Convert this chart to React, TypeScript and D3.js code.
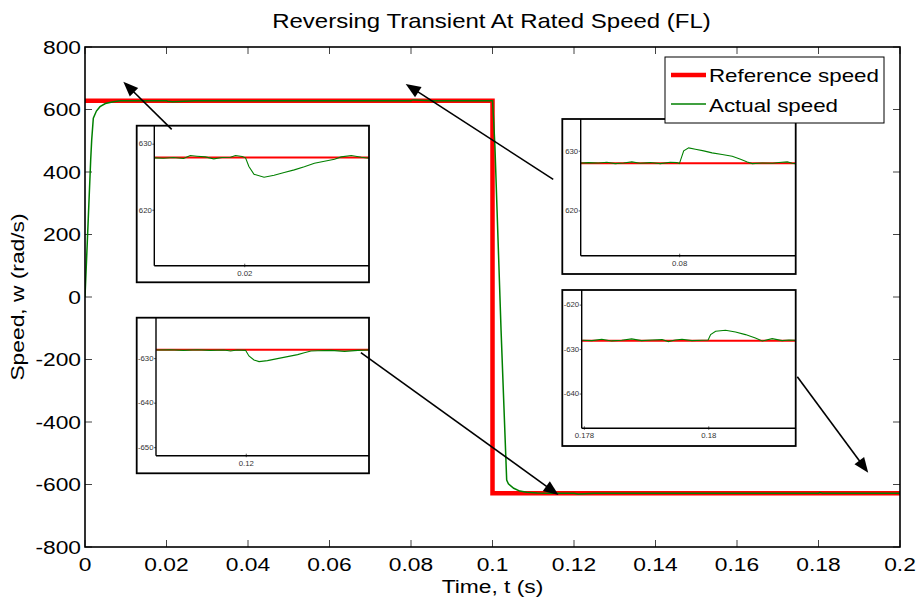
import React from 'react';
import * as d3 from 'd3';

const W = 921;
const H = 603;
const SX = 1.2;
const FONT = '"Liberation Sans", Arial, Helvetica, sans-serif';

// ---------- main chart data ----------
const titleText = 'Reversing Transient At Rated Speed (FL)';
const xLabelText = 'Time, t (s)';
const yLabelText = 'Speed, w (rad/s)';
const legendLabels = ['Reference speed', 'Actual speed'];

const xTicks = [0, 0.02, 0.04, 0.06, 0.08, 0.1, 0.12, 0.14, 0.16, 0.18, 0.2];
const xTickLabels = ['0', '0.02', '0.04', '0.06', '0.08', '0.1', '0.12', '0.14', '0.16', '0.18', '0.2'];
const yTicks = [-800, -600, -400, -200, 0, 200, 400, 600, 800];
const yTickLabels = ['-800', '-600', '-400', '-200', '0', '200', '400', '600', '800'];

const refTime = [0, 0.1, 0.1, 0.2];
const refSpeed = [628, 628, -628, -628];

const actTime = [
  0, 0.0008, 0.0014, 0.00164, 0.00204, 0.0028, 0.00368, 0.005, 0.00695, 0.0086,
  0.02, 0.0203, 0.0215, 0.027, 0.08, 0.0803, 0.0807, 0.085,
  0.1, 0.1003, 0.1006, 0.1021, 0.10348, 0.1039, 0.1052, 0.1067, 0.1084, 0.111, 0.114,
  0.12, 0.121, 0.125, 0.18, 0.1803, 0.181, 0.2,
];
const actSpeed = [
  0, 250, 440, 502, 572, 595, 609, 619, 625, 628,
  628, 626.6, 625, 628, 628, 630, 630.5, 628,
  628, 560, 480, -106, -586, -598, -612, -621, -625, -627.5, -628,
  -628, -630.6, -628, -628, -625.9, -628, -628,
];

// arrows (in main-axis data units)
const arrowTailT = [0.02128, 0.1149, 0.0677, 0.1748];
const arrowTailV = [536.6, 376.6, -178, -255];
const arrowHeadT = [0.0094, 0.0787, 0.1162, 0.1922];
const arrowHeadV = [689, 681.6, -633.6, -562];

// ---------- inset data ----------
const inset1Time = [0.01331, 0.01394, 0.01468, 0.01544, 0.01594, 0.01644, 0.01706, 0.01769, 0.01831, 0.01894, 0.01931, 0.01981, 0.02006, 0.02031, 0.02069, 0.02144, 0.02219, 0.02294, 0.02369, 0.02444, 0.02519, 0.02594, 0.02669, 0.02719, 0.02794, 0.02869, 0.02926];
const inset1Speed = [627.93, 627.88, 627.98, 627.83, 628.28, 628.18, 628.08, 627.78, 627.98, 628.03, 628.28, 628.13, 627.93, 626.62, 625.45, 625.0, 625.3, 625.71, 626.11, 626.57, 627.12, 627.42, 627.73, 628.08, 628.28, 628.03, 627.88];
const inset1Ref = 628;
const inset1XDomain = [0.01326, 0.02926];
const inset1YDomain = [611.6, 632.8];
const inset1XTicks = [0.02];
const inset1YTicks = [620, 630];

const inset2Time = [0.07266, 0.07321, 0.07395, 0.07458, 0.0752, 0.07582, 0.07644, 0.07706, 0.07781, 0.07856, 0.0793, 0.0798, 0.07998, 0.0803, 0.08067, 0.08117, 0.08179, 0.08241, 0.08316, 0.08391, 0.08453, 0.08503, 0.0854, 0.08615, 0.0869, 0.08739, 0.08801, 0.08838, 0.08863];
const inset2Speed = [628.04, 628.1, 628.04, 628.16, 627.93, 628.04, 628.21, 627.99, 628.1, 627.93, 628.16, 628.1, 627.93, 630.06, 630.56, 630.34, 630.06, 629.72, 629.44, 629.16, 628.66, 628.21, 627.93, 628.04, 627.99, 628.1, 628.21, 627.99, 627.93];
const inset2Ref = 628;
const inset2XDomain = [0.072635, 0.088634];
const inset2YDomain = [612.5, 635.4];
const inset2XTicks = [0.08];
const inset2YTicks = [620, 630];

const inset3Time = [0.11327, 0.11428, 0.11529, 0.1163, 0.1173, 0.11831, 0.11882, 0.11932, 0.11995, 0.1202, 0.12058, 0.12096, 0.12159, 0.12234, 0.1231, 0.12386, 0.12436, 0.12486, 0.12537, 0.12638, 0.12738, 0.12839, 0.12922];
const inset3Speed = [-628.06, -627.99, -628.13, -627.99, -628.13, -628.06, -628.28, -628.06, -628.13, -629.4, -630.3, -630.67, -630.45, -630.0, -629.55, -629.1, -628.66, -628.28, -628.21, -628.13, -628.36, -628.13, -628.06];
const inset3Ref = -628;
const inset3XDomain = [0.11322, 0.12922];
const inset3YDomain = [-651.8, -620.8];
const inset3XTicks = [0.12];
const inset3YTicks = [-650, -640, -630];

const inset4Time = [0.17797, 0.17812, 0.17828, 0.17844, 0.1786, 0.17876, 0.17892, 0.17909, 0.17925, 0.17935, 0.17946, 0.17957, 0.17973, 0.17989, 0.17999, 0.18003, 0.18011, 0.18027, 0.18043, 0.18059, 0.18075, 0.18086, 0.18102, 0.18118, 0.18129, 0.1814];
const inset4Speed = [-627.9, -627.98, -627.68, -628.05, -627.9, -627.6, -627.98, -627.83, -627.75, -628.2, -627.83, -627.68, -627.98, -627.9, -627.83, -626.63, -625.88, -625.66, -626.03, -626.63, -627.38, -628.05, -627.53, -627.98, -627.83, -627.9];
const inset4Ref = -628;
const inset4XDomain = [0.177957, 0.181398];
const inset4YDomain = [-647.7, -616.6];
const inset4XTicks = [0.178, 0.18];
const inset4YTicks = [-640, -630, -620];

// ---------- layout ----------
const M = { left: 85, right: 900, top: 47, bottom: 547 };
const insetLayouts = [
  { x1: 136.7, y1: 125.7, x2: 369, y2: 282.3, axL: 154.3, axB: 265.7 },
  { x1: 562.3, y1: 119, x2: 795.7, y2: 274, axL: 580.7, axB: 255.7 },
  { x1: 136.7, y1: 317.7, x2: 369, y2: 473.3, axL: 156, axB: 455.7 },
  { x1: 562.3, y1: 290, x2: 795.7, y2: 446, axL: 581.7, axB: 428.3 },
];

function T(props: any) {
  const { x, y, anchor = 'start', size = 19, rotate, fill = '#000', children } = props;
  const tr = `translate(${x},${y})${rotate ? ` rotate(${rotate})` : ''} scale(${SX},1)`;
  return (
    <text transform={tr} textAnchor={anchor} fontSize={size} fill={fill} fontFamily={FONT}>
      {children}
    </text>
  );
}

function Inset(props: any) {
  const { id, lay, time, speed, refV, xDomain, yDomain, xT, yT } = props;
  const xs = d3.scaleLinear().domain(xDomain).range([lay.axL, lay.x2]);
  const ys = d3.scaleLinear().domain(yDomain).range([lay.axB, lay.y1]);
  const line = d3.line<number>().x((_, i) => xs(time[i])).y((d) => ys(d));
  return (
    <g>
      <defs>
        <clipPath id={id}>
          <rect x={lay.axL} y={lay.y1} width={lay.x2 - lay.axL} height={lay.axB - lay.y1} />
        </clipPath>
      </defs>
      <rect x={lay.x1} y={lay.y1} width={lay.x2 - lay.x1} height={lay.y2 - lay.y1} fill="#fff" stroke="none" />
      <g clipPath={`url(#${id})`}>
        <line x1={xs(xDomain[0])} x2={xs(xDomain[1])} y1={ys(refV)} y2={ys(refV)} stroke="#ff0000" strokeWidth={2} />
        <path d={line(speed) || ''} fill="none" stroke="#008000" strokeWidth={1.1} />
      </g>
      {yT.map((v: number) => (
        <g key={'y' + v}>
          <line x1={lay.axL - 2} x2={lay.axL} y1={ys(v)} y2={ys(v)} stroke="#333" strokeWidth={0.8} />
          <T x={lay.axL - 2.5} y={ys(v) + 2.3} anchor="end" size={6.5} fill="#333">{String(v)}</T>
        </g>
      ))}
      {xT.map((v: number) => (
        <g key={'x' + v}>
          <line x1={xs(v)} x2={xs(v)} y1={lay.axB - 2} y2={lay.axB + 1.5} stroke="#333" strokeWidth={0.8} />
          <T x={xs(v)} y={lay.axB + 10} anchor="middle" size={6.5} fill="#333">{String(v)}</T>
        </g>
      ))}
      <line x1={lay.axL} x2={lay.axL} y1={lay.y1} y2={lay.axB} stroke="#000" strokeWidth={1.4} />
      <line x1={lay.axL} x2={lay.x2} y1={lay.axB} y2={lay.axB} stroke="#000" strokeWidth={1.4} />
      <rect x={lay.x1} y={lay.y1} width={lay.x2 - lay.x1} height={lay.y2 - lay.y1} fill="none" stroke="#000" strokeWidth={1.8} />
    </g>
  );
}

export default function App() {
  const x = d3.scaleLinear().domain([0, 0.2]).range([M.left, M.right]);
  const y = d3.scaleLinear().domain([-800, 800]).range([M.bottom, M.top]);
  const refLine = d3.line<number>().x((_, i) => x(refTime[i])).y((d) => y(d));
  const actLine = d3.line<number>().x((_, i) => x(actTime[i])).y((d) => y(d));

  const arrows = arrowTailT.map((_, i) => {
    const x0 = x(arrowTailT[i]);
    const y0 = y(arrowTailV[i]);
    const x1 = x(arrowHeadT[i]);
    const y1 = y(arrowHeadV[i]);
    const dx = x1 - x0;
    const dy = y1 - y0;
    const len = Math.hypot(dx, dy);
    const ux = dx / len;
    const uy = dy / len;
    const L = 15;
    const hw = 6;
    const bx = x1 - ux * L;
    const by = y1 - uy * L;
    const pts = `${x1},${y1} ${bx - uy * hw},${by + ux * hw} ${bx + uy * hw},${by - ux * hw}`;
    return { x0, y0, lx: x1 - ux * L * 0.7, ly: y1 - uy * L * 0.7, pts };
  });

  const insets = [
    { id: 'in1', time: inset1Time, speed: inset1Speed, refV: inset1Ref, xDomain: inset1XDomain, yDomain: inset1YDomain, xT: inset1XTicks, yT: inset1YTicks },
    { id: 'in2', time: inset2Time, speed: inset2Speed, refV: inset2Ref, xDomain: inset2XDomain, yDomain: inset2YDomain, xT: inset2XTicks, yT: inset2YTicks },
    { id: 'in3', time: inset3Time, speed: inset3Speed, refV: inset3Ref, xDomain: inset3XDomain, yDomain: inset3YDomain, xT: inset3XTicks, yT: inset3YTicks },
    { id: 'in4', time: inset4Time, speed: inset4Speed, refV: inset4Ref, xDomain: inset4XDomain, yDomain: inset4YDomain, xT: inset4XTicks, yT: inset4YTicks },
  ];

  const midX = (M.left + M.right) / 2;
  const midY = (M.top + M.bottom) / 2;

  return (
    <svg width={W} height={H} style={{ position: 'absolute', left: 0, top: 0, background: '#fff' }} fontFamily={FONT}>
      <rect x={0} y={0} width={W} height={H} fill="#fff" />
      <defs>
        <clipPath id="mainclip">
          <rect x={M.left} y={M.top} width={M.right - M.left} height={M.bottom - M.top} />
        </clipPath>
      </defs>

      {/* ticks */}
      {xTicks.map((t) => (
        <g key={'xt' + t}>
          <line x1={x(t)} x2={x(t)} y1={M.bottom} y2={M.bottom - 7} stroke="#444" strokeWidth={1} />
          <line x1={x(t)} x2={x(t)} y1={M.top} y2={M.top + 7} stroke="#444" strokeWidth={1} />
        </g>
      ))}
      {yTicks.map((v) => (
        <g key={'yt' + v}>
          <line x1={M.left} x2={M.left + 7} y1={y(v)} y2={y(v)} stroke="#444" strokeWidth={1} />
          <line x1={M.right} x2={M.right - 7} y1={y(v)} y2={y(v)} stroke="#444" strokeWidth={1} />
        </g>
      ))}

      {/* data */}
      <g clipPath="url(#mainclip)">
        <path d={refLine(refSpeed) || ''} fill="none" stroke="#ff0000" strokeWidth={4.5} strokeLinejoin="miter" />
        <path d={actLine(actSpeed) || ''} fill="none" stroke="#008000" strokeWidth={1.5} />
      </g>

      {/* axes box */}
      <rect x={M.left} y={M.top} width={M.right - M.left} height={M.bottom - M.top} fill="none" stroke="#000" strokeWidth={1.6} />

      {/* tick labels */}
      {xTicks.map((t, i) => (
        <T key={'xl' + t} x={x(t)} y={M.bottom + 24} anchor="middle" size={19}>{xTickLabels[i]}</T>
      ))}
      {yTicks.map((v, i) => (
        <T key={'yl' + v} x={M.left - 4} y={y(v) + 6.7} anchor="end" size={19}>{yTickLabels[i]}</T>
      ))}

      {/* insets */}
      {insets.map((ins, i) => (
        <Inset key={ins.id} lay={insetLayouts[i]} {...ins} />
      ))}

      {/* arrows */}
      {arrows.map((a, i) => (
        <g key={'ar' + i}>
          <line x1={a.x0} y1={a.y0} x2={a.lx} y2={a.ly} stroke="#000" strokeWidth={1.6} />
          <polygon points={a.pts} fill="#000" />
        </g>
      ))}

      {/* legend */}
      <rect x={665} y={57} width={219} height={66} fill="#fff" stroke="#000" strokeWidth={1} />
      <line x1={671} x2={706} y1={75} y2={75} stroke="#ff0000" strokeWidth={4.5} />
      <T x={709} y={82.3} size={18.6}>{legendLabels[0]}</T>
      <line x1={671} x2={706} y1={104} y2={104} stroke="#008000" strokeWidth={1.5} />
      <T x={709} y={111.5} size={18.6}>{legendLabels[1]}</T>

      {/* titles */}
      <T x={midX - 1} y={28.3} anchor="middle" size={20}>{titleText}</T>
      <T x={midX} y={593} anchor="middle" size={19}>{xLabelText}</T>
      <T x={24} y={midY} anchor="middle" size={19} rotate={-90}>{yLabelText}</T>
    </svg>
  );
}
